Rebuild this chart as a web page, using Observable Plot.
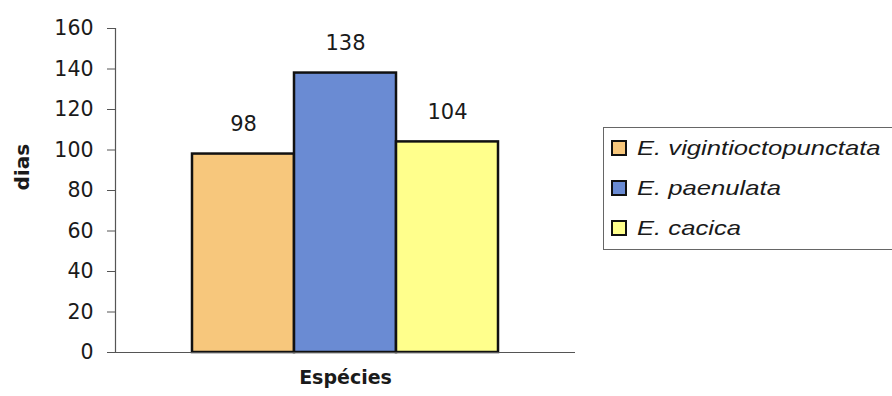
<!DOCTYPE html>
<html>
<head>
<meta charset="utf-8">
<script src="https://cdn.jsdelivr.net/npm/d3@7"></script>
<script src="https://cdn.jsdelivr.net/npm/@observablehq/plot@0.6"></script>
<style>
  html, body { margin: 0; padding: 0; background: #fff; }
  #wrap { position: relative; width: 892px; height: 396px; overflow: hidden; }
  #legend {
    position: absolute; left: 603px; top: 127px; width: 310px; height: 123px;
    box-sizing: border-box; border: 1.5px solid #666; background: #fff;
    font-family: "Liberation Sans", Arial, sans-serif; font-style: italic; font-size: 21px;
    color: #1a1a1a;
  }
  .row { display: flex; align-items: center; height: 40px; }
  .sw { width: 12px; height: 12px; border: 2px solid #111; margin-left: 7px; margin-right: 10px; flex: none; }
  .row span { display: inline-block; transform: scaleX(1.22); transform-origin: left center; }
</style>
</head>
<body>
<div id="wrap"><div id="legend"></div></div>
<script>
const species = ["E. vigintioctopunctata", "E. paenulata", "E. cacica"];
const days = [98, 138, 104];
const colors = ["#F7C77C", "#6A8BD3", "#FFFF8C"];
const yTicks = [0, 20, 40, 60, 80, 100, 120, 140, 160];
const yLabel = "dias";
const xLabel = "Espécies";

const data = species.map((s, i) => ({species: s, days: days[i]}));

const chart = Plot.plot({
  width: 892,
  height: 396,
  marginLeft: 115,
  marginRight: 317,
  marginTop: 28,
  marginBottom: 44,
  style: {fontFamily: "DejaVu Sans, sans-serif", fontSize: "20px", color: "#1a1a1a", background: "transparent"},
  x: {domain: species, paddingInner: 0, paddingOuter: 0.74, axis: null},
  y: {domain: [0, 160]},
  color: {domain: species, range: colors},
  marks: [
    Plot.frame({anchor: "left", stroke: "#555", strokeWidth: 1.2}),
    Plot.axisY({ticks: yTicks, tickSize: 8, tickPadding: 14, label: null, fontSize: 20.5, stroke: "#555"}),
    Plot.text([yLabel], {frameAnchor: "left", dx: -93, rotate: -90, fontWeight: "bold", fontSize: 20, fill: "#1a1a1a"}),
    Plot.text([xLabel], {frameAnchor: "bottom", dy: 31, fontWeight: "bold", fontSize: 19, fill: "#1a1a1a"}),
    Plot.barY(data, {x: "species", y: "days", fill: "species", stroke: "#111", strokeWidth: 2.5}),
    Plot.ruleY([0], {stroke: "#555", strokeWidth: 1.2}),
    Plot.text(data, {x: "species", y: "days", text: d => String(d.days), dy: -30, fontSize: 21, fill: "#1a1a1a"})
  ]
});
document.getElementById("wrap").prepend(chart);

const legend = document.getElementById("legend");
species.forEach((s, i) => {
  const row = document.createElement("div");
  row.className = "row";
  const sw = document.createElement("div");
  sw.className = "sw";
  sw.style.background = colors[i];
  const t = document.createElement("span");
  t.textContent = s;
  row.appendChild(sw);
  row.appendChild(t);
  legend.appendChild(row);
});
</script>
</body>
</html>
